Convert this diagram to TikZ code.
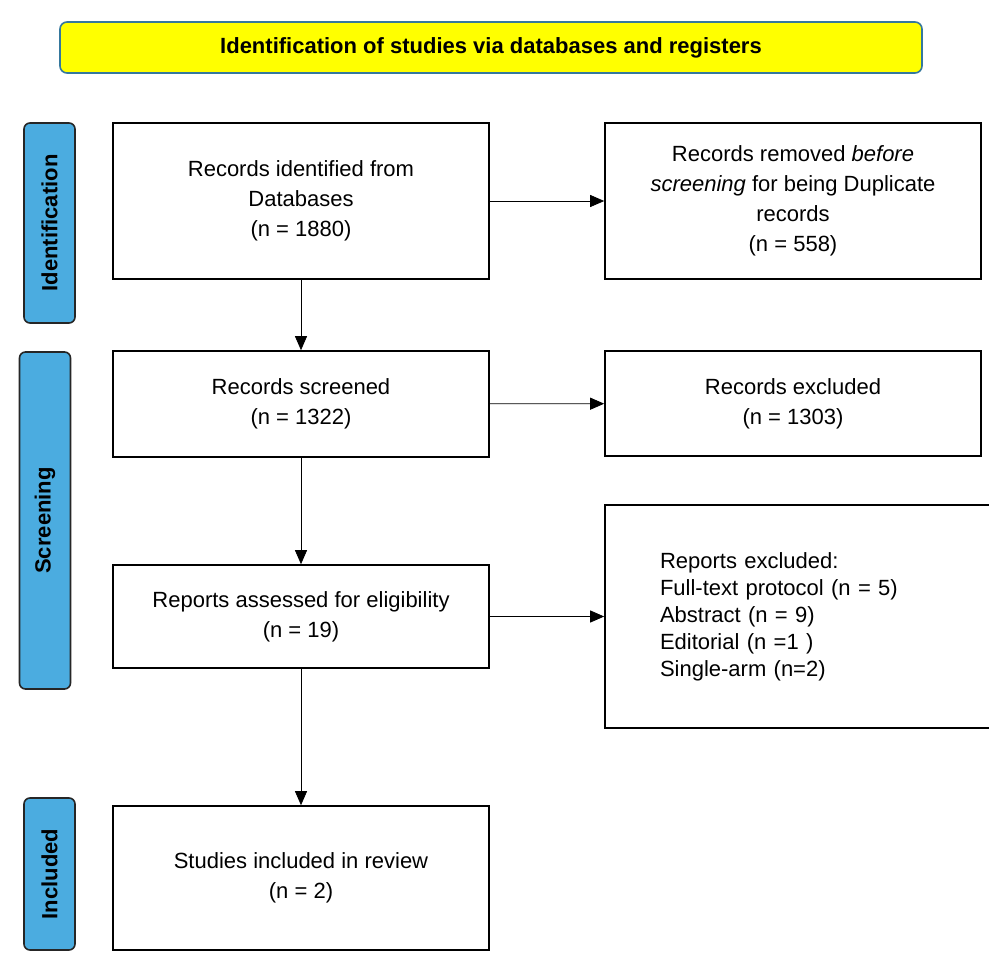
\documentclass[tikz,border=0pt]{standalone}
\usepackage{fontspec}
\setmainfont{Liberation Sans}
\usetikzlibrary{arrows.meta}
\definecolor{sideblue}{HTML}{4BACE0}
\definecolor{titleyellow}{HTML}{FFFF00}
\tikzset{
  flowbox/.style={draw, line width=1.6pt, minimum width=376pt, align=center,
    font=\fontsize{22}{30}\selectfont},
  sidebox/.style={draw=black!85, line width=1.6pt, fill=sideblue, rounded corners=6pt,
    rotate=90, minimum height=51pt, font=\bfseries\fontsize{22}{26}\selectfont},
  flowarrow/.style={-{Triangle[length=14pt,width=12pt]}, line width=0.8pt}
}
\begin{document}
\begin{tikzpicture}[x=1pt,y=-1pt]
\useasboundingbox (0,0) rectangle (989,961);
% title
\node[draw=sideblue!70!black, line width=1.6pt, fill=titleyellow, rounded corners=7pt,
  minimum width=862pt, minimum height=51pt, font=\bfseries\fontsize{22}{26}\selectfont]
  (title) at (491,47.5) {Identification of studies via databases and registers};
% phases
\node[sidebox, minimum width=200pt] (ident) at (49.5,223) {Identification};
\node[sidebox, minimum width=337pt] (screen) at (45,520.5) {Screening};
\node[sidebox, minimum width=152pt] (incl) at (49.5,874) {Included};
% boxes
\node[flowbox, minimum height=156pt] (identified) at (301,201)
  {Records identified from\\Databases\\(n = 1880)};
\node[flowbox, minimum height=156pt] (removed) at (793,201)
  {Records removed \textit{before}\\\textit{screening} for being Duplicate\\records\\(n = 558)};
\node[flowbox, minimum height=106pt] (screened) at (301,404)
  {Records screened\\(n = 1322)};
\node[flowbox, minimum height=105pt] (excluded) at (793,403.5)
  {Records excluded\\(n = 1303)};
\node[flowbox, minimum height=103pt] (assessed) at (301,616.5)
  {Reports assessed for eligibility\\(n = 19)};
\node[flowbox, minimum height=223pt, text width=300pt, align=left, inner xsep=55pt,
  font=\fontsize{22}{27}\selectfont] (reports) at (810,616.5)
  {Reports excluded:\\Full-text protocol (n = 5)\\Abstract (n = 9)\\Editorial (n =1 )\\Single-arm (n=2)};
\node[flowbox, minimum height=144pt] (included) at (301,878)
  {Studies included in review\\(n = 2)};
% arrows
\draw[flowarrow] (identified) -- (screened);
\draw[flowarrow] (screened) -- (assessed);
\draw[flowarrow] (assessed) -- (included);
\draw[flowarrow] (identified) -- (removed);
\draw[flowarrow] (screened) -- (excluded);
\draw[flowarrow] (assessed) -- (reports.west |- assessed);
\end{tikzpicture}
\end{document}
